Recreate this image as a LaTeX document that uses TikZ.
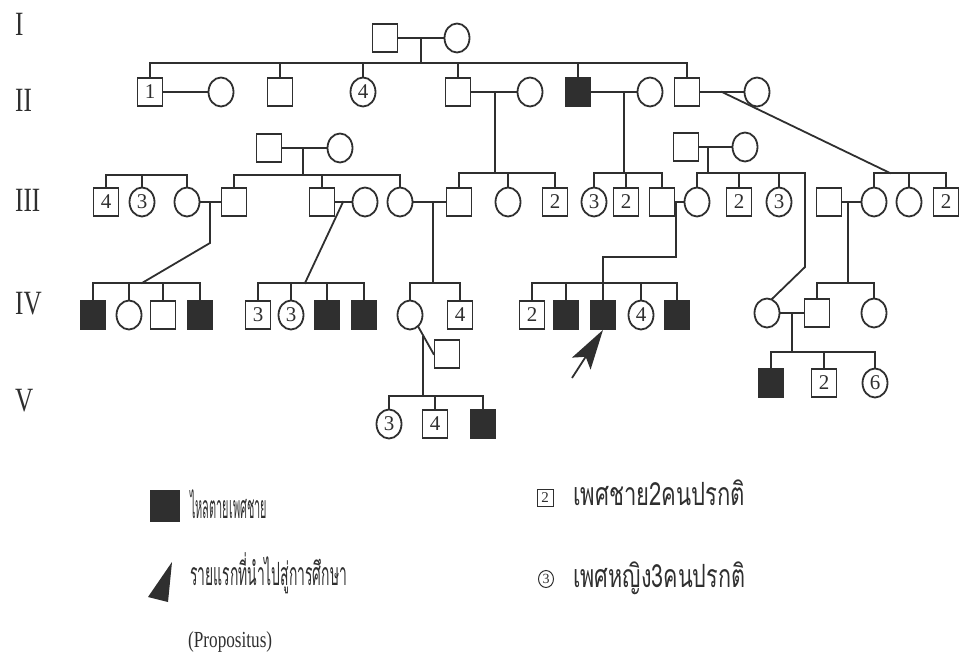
\documentclass[tikz,border=0pt]{standalone}
\usepackage{fontspec}
\setmainfont{Liberation Serif}
\newfontfamily\thaifont[Script=Thai]{Loma}
\usetikzlibrary{shapes.geometric,arrows.meta}
\definecolor{ink}{HTML}{2F2F2F}
\begin{document}
\begin{tikzpicture}[x=1pt,y=-1pt,
 lnk/.style={draw=ink, line width=1.8pt, line cap=rect},
 ind/.style={draw=ink, line width=1.8pt, inner sep=0pt, text=ink, font=\fontsize{21}{21}\selectfont},
 male/.style={ind, rectangle, minimum width=25pt, minimum height=28pt},
 fem/.style={ind, ellipse, minimum width=25pt, minimum height=29pt},
 aff/.style={male, fill=ink},
 gen/.style={anchor=west, inner sep=0pt, text=ink, font=\fontsize{34}{34}\selectfont},
 thai/.style={anchor=base west, inner sep=0pt, text=ink, font=\thaifont\fontsize{32}{32}\selectfont}]
\useasboundingbox (0,0) rectangle (961,653);
\coordinate (y63) at (0,63);
\coordinate (y173) at (0,173);
\coordinate (y175) at (0,175);
\coordinate (y283) at (0,283);
\coordinate (y352) at (0,352);
\coordinate (y396) at (0,396);
% generation labels
\node[gen] (gI) at (15,24) {\scalebox{0.74}[1]{I}};
\node[gen] (gII) at (15,100) {\scalebox{0.74}[1]{II}};
\node[gen] (gIII) at (15,200) {\scalebox{0.74}[1]{III}};
\node[gen] (gIV) at (15,304) {\scalebox{0.74}[1]{IV}};
\node[gen] (gV) at (15,401) {\scalebox{0.74}[1]{V}};
% generation I
\node[male] (I1) at (385,38) {};
\node[fem] (I2) at (457,38) {};
\draw[lnk] (I1) -- (I2);
\coordinate (mI) at (421,38);
\draw[lnk] (mI) -- (mI |- y63);
% generation II
\node[male] (II1) at (150,92) {1};
\node[fem] (W1) at (221,92) {};
\node[male] (II2) at (280,92) {};
\node[fem] (II3) at (363,92) {4};
\node[male] (II4) at (458,92) {};
\node[fem] (W4) at (530,92) {};
\node[aff] (II5) at (578,92) {};
\node[fem] (W5) at (650,92) {};
\node[male] (II6) at (687,92) {};
\node[fem] (W6) at (757,92) {};
\draw[lnk] (II1.north |- y63) -- (II6.north |- y63);
\foreach \c in {II1,II2,II3,II4,II5,II6} \draw[lnk] (\c.north) -- (\c.north |- y63);
\draw[lnk] (II1) -- (W1);
\draw[lnk] (II4) -- (W4);
\draw[lnk] (II5) -- (W5);
\draw[lnk] (II6) -- (W6);
\coordinate (m4) at (495,92);
\coordinate (m5) at (624,92);
\coordinate (m6) at (722,92);
\coordinate (s6) at (890,173);
\draw[lnk] (m4) -- (m4 |- y173);
\draw[lnk] (m5) -- (m5 |- y173);
\draw[lnk] (m6) -- (s6);
% in-law parents
\node[male] (P1) at (269,148) {};
\node[fem] (P2) at (340,148) {};
\draw[lnk] (P1) -- (P2);
\coordinate (mP) at (303,148);
\draw[lnk] (mP) -- (mP |- y175);
\node[male] (Q1) at (686,147) {};
\node[fem] (Q2) at (745,147) {};
\draw[lnk] (Q1) -- (Q2);
\coordinate (mQ) at (708,147);
\draw[lnk] (mQ) -- (mQ |- y173);
% generation III
\node[male] (A1) at (106,202) {4};
\node[fem] (A2) at (142,202) {3};
\node[fem] (A3) at (187,202) {};
\node[male] (B1) at (234,202) {};
\node[male] (B2) at (322,202) {};
\node[fem] (S2) at (365,202) {};
\node[fem] (B3) at (400,202) {};
\node[male] (C1) at (459,202) {};
\node[fem] (C2) at (508,202) {};
\node[male] (C3) at (555,202) {2};
\node[fem] (D1) at (594,202) {3};
\node[male] (D2) at (626,202) {2};
\node[male] (D3) at (662,202) {};
\node[fem] (E1) at (697,202) {};
\node[male] (E2) at (739,202) {2};
\node[fem] (E3) at (779,202) {3};
\node[male] (G1) at (829,202) {};
\node[fem] (H1) at (874,202) {};
\node[fem] (H2) at (909,202) {};
\node[male] (H3) at (946,202) {2};
\draw[lnk] (A1.north |- y175) -- (A3.north |- y175);
\foreach \c in {A1,A2,A3} \draw[lnk] (\c.north) -- (\c.north |- y175);
\draw[lnk] (B1.north |- y175) -- (B3.north |- y175);
\foreach \c in {B1,B2,B3} \draw[lnk] (\c.north) -- (\c.north |- y175);
\draw[lnk] (C1.north |- y173) -- (C3.north |- y173);
\foreach \c in {C1,C2,C3} \draw[lnk] (\c.north) -- (\c.north |- y173);
\draw[lnk] (D1.north |- y173) -- (D3.north |- y173);
\foreach \c in {D1,D2,D3} \draw[lnk] (\c.north) -- (\c.north |- y173);
\coordinate (e4) at (805,173);
\coordinate (e5) at (805,267);
\draw[lnk] (E1.north |- y173) -- (e4);
\foreach \c in {E1,E2,E3} \draw[lnk] (\c.north) -- (\c.north |- y173);
\draw[lnk] (H1.north |- y173) -- (H3.north |- y173);
\foreach \c in {H1,H2,H3} \draw[lnk] (\c.north) -- (\c.north |- y173);
\draw[lnk] (A3) -- (B1);
\draw[lnk] (B2) -- (S2);
\draw[lnk] (B3) -- (C1);
\draw[lnk] (D3) -- (E1);
\draw[lnk] (G1) -- (H1);
% generation IV
\node[aff] (L1) at (93,315) {};
\node[fem] (L2) at (129,315) {};
\node[male] (L3) at (163,315) {};
\node[aff] (L4) at (200,315) {};
\node[male] (J1) at (258,315) {3};
\node[fem] (J2) at (291,315) {3};
\node[aff] (J3) at (327,315) {};
\node[aff] (J4) at (364,315) {};
\node[fem] (K1) at (410,315) {};
\node[male] (K2) at (460,315) {4};
\node[male] (K3) at (447,354) {};
\node[male] (M1) at (532,315) {2};
\node[aff] (M2) at (566,315) {};
\node[aff] (M3) at (603,315) {};
\node[fem] (M4) at (641,315) {4};
\node[aff] (M5) at (677,315) {};
\node[fem] (F1) at (767,313) {};
\node[male] (F2) at (817,313) {};
\node[fem] (F3) at (874,313) {};
\draw[lnk] (L1.north |- y283) -- (L4.north |- y283);
\foreach \c in {L1,L2,L3,L4} \draw[lnk] (\c.north) -- (\c.north |- y283);
\draw[lnk] (J1.north |- y283) -- (J4.north |- y283);
\foreach \c in {J1,J2,J3,J4} \draw[lnk] (\c.north) -- (\c.north |- y283);
\draw[lnk] (K1.north |- y283) -- (K2.north |- y283);
\foreach \c in {K1,K2} \draw[lnk] (\c.north) -- (\c.north |- y283);
\draw[lnk] (M1.north |- y283) -- (M5.north |- y283);
\foreach \c in {M1,M2,M3,M4,M5} \draw[lnk] (\c.north) -- (\c.north |- y283);
\draw[lnk] (F2.north |- y283) -- (F3.north |- y283);
\foreach \c in {F2,F3} \draw[lnk] (\c.north) -- (\c.north |- y283);
% descent lines from gen III couples
\coordinate (mA) at (210,202);
\coordinate (mA2) at (210,243);
\draw[lnk] (mA) -- (mA2) -- (142,283);
\coordinate (mB) at (343,202);
\draw[lnk] (mB) -- (305,283);
\coordinate (mC) at (433,202);
\draw[lnk] (mC) -- (mC |- y283);
\coordinate (mD) at (676,202);
\draw[lnk] (mD) -- ++(0,55) -| (M3.north |- y283);
\coordinate (mG) at (848,202);
\draw[lnk] (mG) -- (mG |- y283);
\draw[lnk] (e4) -- (e5) -- (F1.70);
% couples in gen IV
\draw[lnk] (K1.-55) -- (K3.west);
\coordinate (mK) at (423,337);
\draw[lnk] (mK) -- (mK |- y396);
\draw[lnk] (F1) -- (F2);
\coordinate (mF) at (792,313);
\draw[lnk] (mF) -- (mF |- y352);
% generation V
\node[fem] (V1) at (389,424) {3};
\node[male] (V2) at (435,424) {4};
\node[aff] (V3) at (483,424) {};
\draw[lnk] (V1.north |- y396) -- (V3.north |- y396);
\foreach \c in {V1,V2,V3} \draw[lnk] (\c.north) -- (\c.north |- y396);
\node[aff] (R1) at (771,383) {};
\node[male] (R2) at (824,383) {2};
\node[fem] (R3) at (875,383) {6};
\draw[lnk] (R1.north |- y352) -- (R3.north |- y352);
\foreach \c in {R1,R2,R3} \draw[lnk] (\c.north) -- (\c.north |- y352);
% propositus arrow
\coordinate (tail) at (572,378);
\draw[lnk, line cap=butt, -{Stealth[length=40pt,width=22pt,inset=8pt]}] (tail) -- (M3.south);
% legend
\node[aff, minimum width=28pt, minimum height=30pt] (Lg1) at (165,506) {};
\node[thai] (T1) at (190,518) {\resizebox{77pt}{\height}{ไหลตายเพศชาย}};
\fill[ink] (172,562) -- (148,597) -- (168,602) -- cycle;
\node[thai] (T2) at (190,585) {\resizebox{157pt}{\height}{รายแรกที่นำไปสู่การศึกษา}};
\node[anchor=base west, inner sep=0pt, text=ink, font=\fontsize{23}{23}\selectfont] (T5) at (188,647) {\resizebox{84pt}{\height}{(Propositus)}};
\node[male, minimum width=16pt, minimum height=17pt, line width=1pt, font=\fontsize{15}{15}\selectfont] (Lg2) at (545,498) {2};
\node[thai] (T3) at (573,505) {\resizebox{172pt}{\height}{เพศชาย2คนปรกติ}};
\node[fem, minimum width=15pt, minimum height=17pt, line width=1pt, font=\fontsize{14}{14}\selectfont] (Lg3) at (546,579) {3};
\node[thai] (T4) at (573,587) {\resizebox{172pt}{\height}{เพศหญิง3คนปรกติ}};
\end{tikzpicture}
\end{document}
